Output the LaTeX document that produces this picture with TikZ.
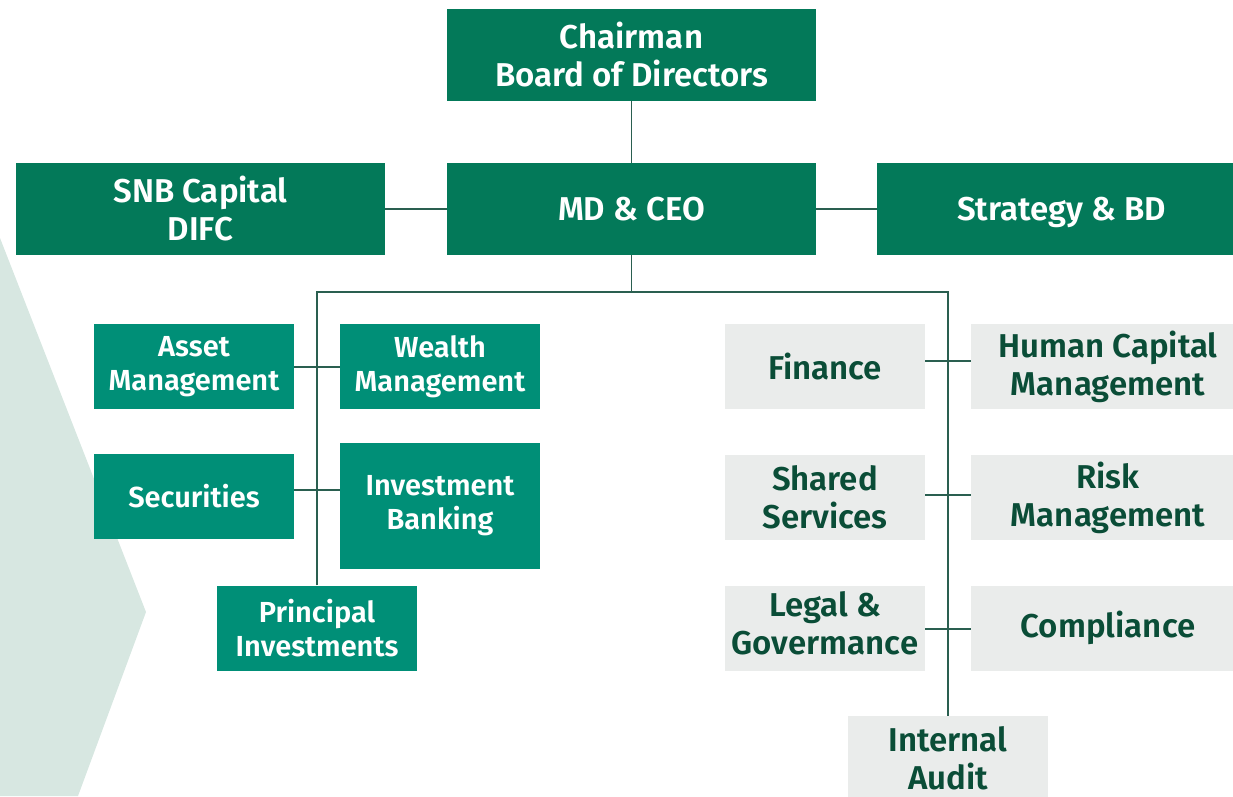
\documentclass[tikz,border=0pt]{standalone}
\usepackage{fontspec}
\setmainfont{Fira Sans SemiBold}
\definecolor{topgreen}{HTML}{037959}
\definecolor{unitgreen}{HTML}{008F77}
\definecolor{supportgrey}{HTML}{EAECEB}
\definecolor{supporttext}{HTML}{0A4D37}
\definecolor{chevron}{HTML}{D7E7E1}
\definecolor{wire}{HTML}{2A5F50}
\tikzset{
  box/.style={rectangle, inner sep=0pt, align=center},
  topbox/.style={box, fill=topgreen, text=white, minimum width=369pt, minimum height=92pt,
    font=\fontsize{33}{38}\selectfont},
  unitbox/.style={box, fill=unitgreen, text=white, minimum width=200pt, minimum height=85pt,
    font=\fontsize{29}{34}\selectfont},
  supportbox/.style={box, fill=supportgrey, text=supporttext, minimum height=85pt,
    font=\fontsize{33}{38}\selectfont},
  flat/.style={text depth=0pt},
  link/.style={draw=wire, line width=1.5pt},
}
\begin{document}
\begin{tikzpicture}[x=1pt, y=-1pt]
\useasboundingbox (0,0) rectangle (1233,796);
\clip (0,0) rectangle (1233,796);

% background chevron on the left
\fill[chevron] (0,238) -- (146,612) -- (78,796) -- (0,796) -- cycle;

% leadership
\node[topbox] (chair) at (631.5,55) {Chairman\\Board of Directors};
\node[topbox] (ceo) at (631.5,209) {MD \& CEO};
\node[topbox] (snb) at (200.5,209) {SNB Capital\\DIFC};
\node[topbox, flat] (strat) at (1061.5,209) {Strategy \& BD};

% business units
\node[unitbox] (asset) at (194,366.5) {Asset\\Management};
\node[unitbox] (wealth) at (440,366.5) {Wealth\\Management};
\node[unitbox] (secur) at (194,496) {Securities};
\node[unitbox, minimum height=126pt] (ib) at (440,506) {Investment\\Banking};
\node[unitbox] (pi) at (317,628) {Principal\\Investments};

% support functions
\node[supportbox, minimum width=200pt] (fin) at (825,366.5) {Finance};
\node[supportbox, minimum width=274pt] (hcm) at (1108,366.5) {Human Capital\\Management};
\node[supportbox, minimum width=200pt] (shared) at (825,497.5) {Shared\\Services};
\node[supportbox, minimum width=274pt] (risk) at (1108,497.5) {Risk\\Management};
\node[supportbox, minimum width=200pt, text depth=11pt] (legal) at (825,628) {Legal \&\\Govermance};
\node[supportbox, minimum width=274pt] (comp) at (1108,628) {Compliance};
\node[supportbox, minimum width=200pt, minimum height=84pt] (ia) at (948,758) {Internal\\Audit};

% connector rows
\coordinate (bus) at (0,292);
\coordinate (rowa) at (0,367);
\coordinate (rowb) at (0,490);
\coordinate (rowc) at (0,361);
\coordinate (rowd) at (0,495);
\coordinate (rowe) at (0,629);

% connectors
\draw[link] (chair.south) -- (ceo.north);
\draw[link] (snb.east) -- (ceo.west);
\draw[link] (ceo.east) -- (strat.west);
\draw[link] (ceo.south) -- (ceo.south |- bus);
\draw[link] (pi.north) |- (ia.north |- bus) -- (ia.north);
\draw[link] (asset.east |- rowa) -- (wealth.west |- rowa);
\draw[link] (secur.east |- rowb) -- (ib.west |- rowb);
\draw[link] (fin.east |- rowc) -- (hcm.west |- rowc);
\draw[link] (shared.east |- rowd) -- (risk.west |- rowd);
\draw[link] (legal.east |- rowe) -- (comp.west |- rowe);
\end{tikzpicture}
\end{document}
